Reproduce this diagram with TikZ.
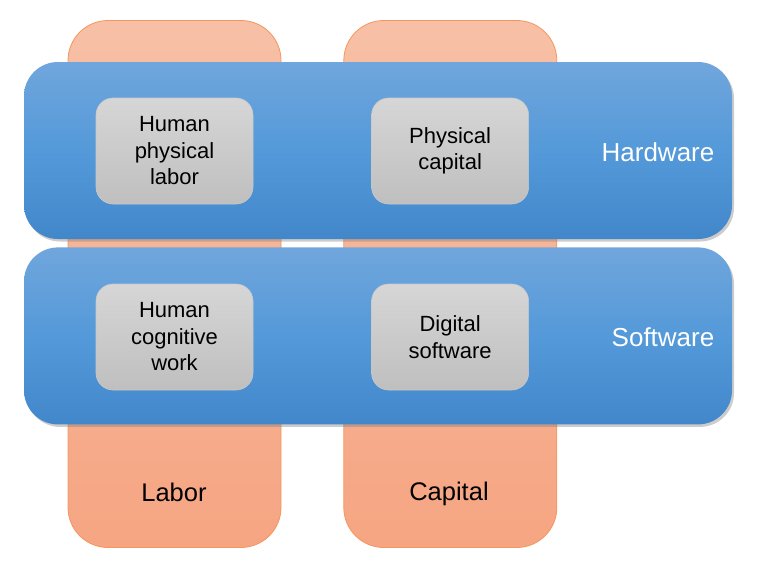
\documentclass[tikz,border=0pt]{standalone}
\usepackage{fontspec}
\setmainfont{Liberation Sans}
\usepackage{xcolor}
\usetikzlibrary{positioning, shadows}

\definecolor{bandtop}{RGB}{112,166,220}
\definecolor{bandmid}{RGB}{84,153,217}
\definecolor{bandbot}{RGB}{66,135,202}
\definecolor{coltop}{RGB}{247,192,166}
\definecolor{colbot}{RGB}{246,165,130}
\definecolor{colline}{RGB}{244,150,94}
\definecolor{boxtop}{RGB}{214,214,214}
\definecolor{boxbot}{RGB}{191,191,191}
\definecolor{boxline}{RGB}{200,200,200}

\begin{document}
\begin{tikzpicture}[
      x=1pt, y=-1pt,
      factor/.style={rectangle, rounded corners=40pt, draw=colline, line width=0.8pt, top color=coltop, bottom color=colbot, minimum width=213pt, minimum height=527pt, inner sep=0pt},
      layer/.style={rectangle, rounded corners=34pt, top color=bandtop, bottom color=bandbot, middle color=bandmid, minimum width=708pt, minimum height=177pt, inner sep=0pt, drop shadow={shadow xshift=2pt, shadow yshift=-2.5pt, opacity=0.4}},
      cell/.style={rectangle, rounded corners=17pt, draw=boxline, line width=0.6pt, top color=boxtop, bottom color=boxbot, minimum width=157pt, minimum height=106pt, inner sep=0pt, align=center, font=\fontsize{22}{26.5}\selectfont},
      layer_label/.style={text=white, inner sep=0pt, font=\fontsize{26}{30}\selectfont},
      factor_label/.style={text=black, inner sep=0pt, font=\fontsize{25.5}{30}\selectfont}
  ]
  \useasboundingbox (0,0) rectangle (757,570);

  % the two factors, standing behind
  \node[factor] (labor) at (174.5,284) {};
  \node[factor] (capital) [right=62pt of labor] {};

  % the two layers across them
  \node[layer] (hardware) at (378,150.5) {};
  \node[layer] (software) [below=8pt of hardware] {};

  \node[cell] (physlabor) at (174.5,151) {Human\\physical\\labor};
  \node[cell] (physcap) [right=118pt of physlabor] {Physical\\capital};
  \node[cell] (cogwork) at (174.5,337) {Human\\cognitive\\work};
  \node[cell] (digsoft) [right=118pt of cogwork] {Digital\\software};

  \node[layer_label] (hwlabel) at (658,152) {Hardware};
  \node[layer_label] (swlabel) at (663,337) {Software};

  \node[factor_label] (laborlabel) at (174,492.5) {Labor};
  \node[factor_label] (caplabel) at (449,494) {Capital};

\end{tikzpicture}
\end{document}
